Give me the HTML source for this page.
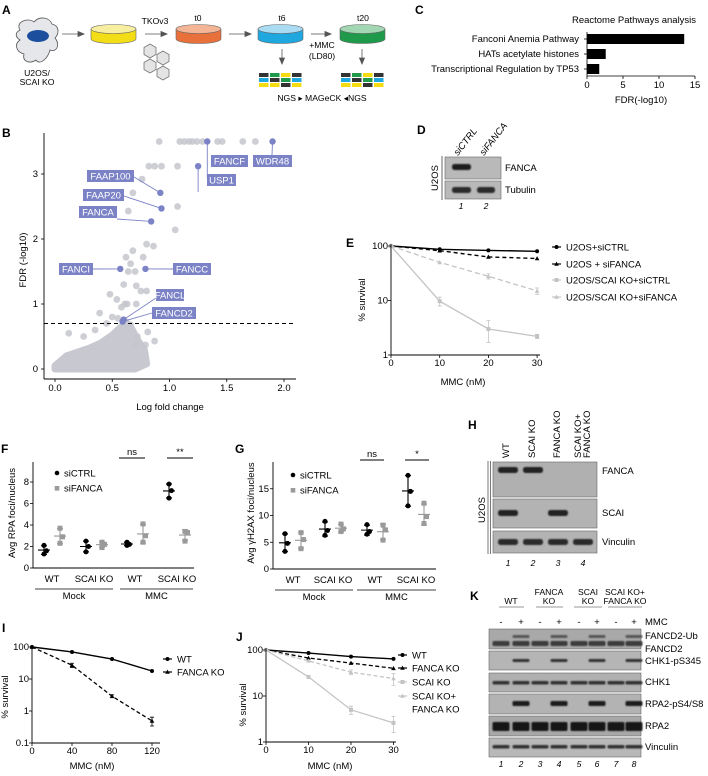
<!DOCTYPE html>
<html><head><meta charset="utf-8"><style>
html,body{margin:0;padding:0;background:#fff;}
svg{display:block;font-family:"Liberation Sans",Arial,sans-serif;}
.pl{font-size:12px;font-weight:bold;}
.t7{font-size:8.6px;}
.t8{font-size:9.5px;}
.lab{font-size:9.5px;}
</style></head><body>
<svg id="fig" width="708" height="776" viewBox="0 0 708 776" xmlns="http://www.w3.org/2000/svg">
<defs><filter id="bl" x="-20%" y="-50%" width="140%" height="200%"><feGaussianBlur stdDeviation="0.7"/></filter></defs>
<text class="pl" x="2" y="14">A</text>
<text class="pl" x="415" y="14">C</text>
<text class="pl" x="2" y="137">B</text>
<text class="pl" x="417" y="134">D</text>
<text class="pl" x="346" y="247">E</text>
<text class="pl" x="1" y="453">F</text>
<text class="pl" x="235" y="453">G</text>
<text class="pl" x="468" y="429">H</text>
<text class="pl" x="2" y="632">I</text>
<text class="pl" x="236" y="641">J</text>
<text class="pl" x="470" y="600">K</text>

<g>
 <path d="M20,30 C15,22 28,17 34,22 C40,15 50,18 52,24 C60,26 59,34 55,38 C61,45 56,53 50,50 C48,58 40,66 36,60 C30,64 22,62 24,54 C16,52 14,44 20,40 C14,36 16,32 20,30 Z" fill="#e6e7ea" stroke="#555" stroke-width="0.8"/>
 <ellipse cx="38" cy="36" rx="11" ry="6" fill="#1b4f9d"/>
 <text class="t7" x="37" y="76" text-anchor="middle">U2OS/</text>
 <text class="t7" x="37" y="85" text-anchor="middle">SCAI KO</text>
 <g>
  <path d="M91,29 L91,39 A22.5,4.5 0 0 0 136,39 L136,29 Z" fill="#f3dd17" stroke="#666" stroke-width="0.6"/>
  <ellipse cx="113.5" cy="29" rx="22.5" ry="4.5" fill="#f8eea0" stroke="#666" stroke-width="0.6"/></g>
 <g>
  <path d="M176,29 L176,39 A22.5,4.5 0 0 0 221,39 L221,29 Z" fill="#e8703a" stroke="#666" stroke-width="0.6"/>
  <ellipse cx="198.5" cy="29" rx="22.5" ry="4.5" fill="#f3b596" stroke="#666" stroke-width="0.6"/></g>
 <g>
  <path d="M258,29 L258,39 A22.5,4.5 0 0 0 303,39 L303,29 Z" fill="#1fa8e0" stroke="#666" stroke-width="0.6"/>
  <ellipse cx="280.5" cy="29" rx="22.5" ry="4.5" fill="#a9dcf2" stroke="#666" stroke-width="0.6"/></g>
 <g>
  <path d="M340,29 L340,39 A22.5,4.5 0 0 0 385,39 L385,29 Z" fill="#1e9a4a" stroke="#666" stroke-width="0.6"/>
  <ellipse cx="362.5" cy="29" rx="22.5" ry="4.5" fill="#a3d6b2" stroke="#666" stroke-width="0.6"/></g>
 <g stroke="#555" stroke-width="0.8" fill="#555">
  <line x1="62" y1="34" x2="79" y2="34"/><path d="M84,34 L78,31.5 L78,36.5Z"/>
  <line x1="145" y1="34" x2="162" y2="34"/><path d="M167,34 L161,31.5 L161,36.5Z"/>
  <line x1="229" y1="34" x2="246" y2="34"/><path d="M251,34 L245,31.5 L245,36.5Z"/>
  <line x1="311" y1="34" x2="326" y2="34"/><path d="M331,34 L325,31.5 L325,36.5Z"/>
  <line x1="282" y1="49" x2="282" y2="59"/><path d="M282,64 L279.5,58 L284.5,58Z"/>
  <line x1="362" y1="49" x2="362" y2="59"/><path d="M362,64 L359.5,58 L364.5,58Z"/>
 </g>
 <text class="t7" x="155" y="24" text-anchor="middle">TKOv3</text>
 <text class="t7" x="198" y="21" text-anchor="middle">t0</text>
 <text class="t7" x="282" y="21" text-anchor="middle">t6</text>
 <text class="t7" x="363" y="21" text-anchor="middle">t20</text>
 <text class="t7" x="322" y="48" text-anchor="middle">+MMC</text>
 <text class="t7" x="322" y="59" text-anchor="middle">(LD80)</text>
 <g fill="#e4e4e4" stroke="#777" stroke-width="0.8">
  <polygon points="150,44 156,47.5 156,54.5 150,58 144,54.5 144,47.5"/>
  <polygon points="163,51 169,54.5 169,61.5 163,65 157,61.5 157,54.5"/>
  <polygon points="150,59 156,62.5 156,69.5 150,73 144,69.5 144,62.5"/>
  <polygon points="163,66 169,69.5 169,76.5 163,80 157,76.5 157,69.5"/>
 </g>
 <text class="t7" x="322" y="101" text-anchor="middle">NGS ▸ MAGeCK ◂NGS</text>
 <g id="grids"></g>
</g>

<g id="panelC">
 <text class="t8" x="634" y="23" text-anchor="middle">Reactome Pathways analysis</text>
 <text class="t8" x="641" y="103" text-anchor="middle">FDR(-log10)</text>
</g>

<g id="panelB">
 <text class="t8" x="170" y="410" text-anchor="middle">Log fold change</text>
 <text class="t8" transform="translate(26,260) rotate(-90)" text-anchor="middle">FDR (-log10)</text>
</g>

<g>
 <text class="t8" font-style="italic" transform="translate(458,156) rotate(-52)">siCTRL</text>
 <text class="t8" font-style="italic" transform="translate(484,156) rotate(-52)">siFANCA</text>
 <rect x="445" y="157" width="56" height="22" fill="#b9b9b9" stroke="#666" stroke-width="0.6"/>
 <rect x="445" y="181" width="56" height="18" fill="#b9b9b9" stroke="#666" stroke-width="0.6"/>
 <rect x="452" y="164" width="19" height="6" rx="2.5" fill="#1f1f1f" filter="url(#bl)"/>
 <rect x="452" y="187" width="19" height="6" rx="2.5" fill="#2a2a2a" filter="url(#bl)"/>
 <rect x="477" y="187" width="18" height="6" rx="2.5" fill="#2a2a2a" filter="url(#bl)"/>
 <line x1="442" y1="156" x2="442" y2="200" stroke="#444" stroke-width="0.8"/>
 <text class="t8" transform="translate(438,178) rotate(-90)" text-anchor="middle">U2OS</text>
 <text class="t8" x="505" y="171">FANCA</text>
 <text class="t8" x="505" y="193">Tubulin</text>
 <text class="t7" font-style="italic" x="461" y="209" text-anchor="middle">1</text>
 <text class="t7" font-style="italic" x="486" y="209" text-anchor="middle">2</text>
</g>

<g id="panelE">
 <text class="t8" x="463" y="385" text-anchor="middle">MMC (nM)</text>
 <text class="t8" transform="translate(365,300) rotate(-90)" text-anchor="middle">% survival</text>
</g>
<g id="panelF">
 <text class="t8" transform="translate(15,513) rotate(-90)" text-anchor="middle">Avg RPA foci/nucleus</text>
</g>
<g id="panelG">
 <text class="t8" transform="translate(254,513) rotate(-90)" text-anchor="middle">Avg γH2AX foci/nucleus</text>
</g>

<g>
 <text class="t8" transform="translate(509,458) rotate(-90)">WT</text>
 <text class="t8" transform="translate(535,458) rotate(-90)">SCAI KO</text>
 <text class="t8" transform="translate(560,458) rotate(-90)">FANCA KO</text>
 <text class="t8" transform="translate(581,458) rotate(-90)">SCAI KO+</text>
 <text class="t8" transform="translate(590,458) rotate(-90)">FANCA KO</text>
 <rect x="493" y="462" width="104" height="35" fill="#b0b0b0" stroke="#666" stroke-width="0.6"/>
 <rect x="493" y="499" width="104" height="29" fill="#b3b3b3" stroke="#666" stroke-width="0.6"/>
 <rect x="493" y="531" width="104" height="22" fill="#b3b3b3" stroke="#666" stroke-width="0.6"/>
 <line x1="488" y1="461" x2="488" y2="554" stroke="#555" stroke-width="0.8"/>
 <line x1="490.5" y1="461" x2="490.5" y2="554" stroke="#555" stroke-width="0.8"/>
 <text class="t8" transform="translate(485,510) rotate(-90)" text-anchor="middle">U2OS</text>
 <text class="t8" x="602" y="474">FANCA</text>
 <text class="t8" x="602" y="516">SCAI</text>
 <text class="t8" x="602" y="545">Vinculin</text>
 <g id="hBands"></g>
</g>

<g>
 <text class="t7" x="511" y="604" text-anchor="middle">WT</text>
 <text class="t7" x="549" y="595" text-anchor="middle">FANCA</text>
 <text class="t7" x="549" y="604" text-anchor="middle">KO</text>
 <text class="t7" x="588" y="595" text-anchor="middle">SCAI</text>
 <text class="t7" x="588" y="604" text-anchor="middle">KO</text>
 <text class="t7" x="625" y="595" text-anchor="middle">SCAI KO+</text>
 <text class="t7" x="625" y="604" text-anchor="middle">FANCA KO</text>
 <g stroke="#333" stroke-width="0.6"><line x1="499" y1="607" x2="524" y2="607"/><line x1="536" y1="607" x2="563" y2="607"/><line x1="574" y1="607" x2="602" y2="607"/><line x1="608" y1="607" x2="642" y2="607"/></g>
 <text class="t8" x="645" y="625">MMC</text>
 <g id="kBands"></g>
 <text class="t8" x="645" y="639">FANCD2-Ub</text>
 <text class="t8" x="645" y="652">FANCD2</text>
 <text class="t8" x="645" y="664">CHK1-pS345</text>
 <text class="t8" x="645" y="685">CHK1</text>
 <text class="t8" x="645" y="707">RPA2-pS4/S8</text>
 <text class="t8" x="645" y="729">RPA2</text>
 <text class="t8" x="645" y="750">Vinculin</text>
</g>

<g id="panelI">
 <text class="t8" x="92" y="769" text-anchor="middle">MMC (nM)</text>
 <text class="t8" transform="translate(8,697) rotate(-90)" text-anchor="middle">% survival</text>
</g>
<g id="panelJ">
 <text class="t8" x="330" y="769" text-anchor="middle">MMC (nM)</text>
 <text class="t8" transform="translate(246,705) rotate(-90)" text-anchor="middle">% survival</text>
</g>
</svg>
<script>
const cCats=['Fanconi Anemia Pathway','HATs acetylate histones','Transcriptional Regulation by TP53'];
const cVals=[13.5,2.6,1.7];
const cTicks=[0,5,10,15];

const bTicksX=[0,0.5,1,1.5,2];
const bTickLabelsX=['0.0','0.5','1.0','1.5','2.0'];
const bTicksY=[0,1,2,3];
const bThreshold=0.7;
const bgFold=[0.91,1.09,1.13,1.17,1.2,1.24,1.29,1.42,1.46,1.64,1.75,0.82,0.87,0.93,1.07,0.76,0.68,1.07,0.64,1.05,0.8,0.86,0.68,0.62,0.77,0.66,0.64,0.7,0.6,0.71,0.48,0.75,0.8,0.54,0.61,0.63,0.71,0.39,0.81,0.72,0.87,0.12,0.79,0.71,0.45,0.5,0.55,0.66,0.58,0.35,0.25];
const bgFdr=[3.5,3.5,3.5,3.5,3.5,3.5,3.5,3.5,3.5,3.5,3.5,3.12,3.12,3.12,3.12,2.92,2.71,2.5,2.43,2.14,1.92,1.89,1.82,1.72,1.72,1.62,1.5,1.5,1.3,1.28,1.15,1.2,1.2,1.07,1.0,1.0,1.0,0.86,0.57,0.5,0.43,0.55,0.37,0.37,0.7,0.8,0.78,0.68,0.95,0.6,0.5];
const cloudFold=[0,0.1,0.2,0.3,0.4,0.5,0.56,0.62,0.67,0.72,0.78,0.8,0.7,0.5,0.3,0.1,0];
const cloudFdr=[0.05,0.2,0.26,0.32,0.4,0.52,0.62,0.72,0.62,0.45,0.3,0.08,0,0,0,0,0];
const hlNames=['FANCF','WDR48','USP1','FAAP100','FAAP20','FANCA','FANCI','FANCC','FANCL','FANCD2'];
const hlFold=[1.33,1.9,1.25,0.92,0.93,0.84,0.57,0.79,0.6,0.59];
const hlFdr=[3.5,3.5,3.12,2.71,2.47,2.27,1.54,1.54,0.76,0.73];

const eDoses=[0,10,20,30];
const eTicksY=[1,10,100];
const eSiCtrl=[100,87,83,80];
const eSiFanca=[100,82,63,59];
const eScaiSiCtrl=[100,9.7,3.0,2.2];
const eScaiSiFanca=[100,50,27.8,15];
const eScaiSiCtrlErr=[0,1.8,1.3,0.2];
const eScaiSiFancaErr=[0,0,3,2];

const fgCats=['WT','SCAI KO','WT','SCAI KO'];
const fTicks=[0,2,4,6,8];
const fCtrl=[[2.1,1.6,1.3],[2.5,2.0,1.5],[2.4,2.2,2.1],[7.8,7.2,6.5]];
const fFanca=[[3.7,2.9,2.3],[2.4,2.2,1.9],[4.1,3.0,2.4],[3.4,3.3,2.5]];
const gTicks=[0,5,10,15];
const gCtrl=[[6.6,4.8,3.3],[8.9,7.2,6.3],[8.3,7.0,6.5],[17.5,14.5,11.8]];
const gFanca=[[6.8,5.5,3.8],[8.4,7.5,7.0],[8.2,7.3,5.4],[12.3,9.8,8.5]];

const iDoses=[0,40,80,120];
const iTicksY=[0.1,1,10,100];
const iWT=[100,70,42,17.8];
const iFanca=[100,27,2.9,0.49];
const iFancaErr=[0,4,0.3,0.15];

const jDoses=[0,10,20,30];
const jTicksY=[1,10,100];
const jWT=[100,86,72,64];
const jFanca=[100,67,52,40];
const jScai=[100,26,5,2.6];
const jScaiFanca=[100,58,33,24];
const jScaiErr=[0,1.5,1,1];
const jScaiFancaErr=[0,3,4,7];

const NS='http://www.w3.org/2000/svg';
function mk(tag,attrs,parent){const e=document.createElementNS(NS,tag);for(const k in attrs)e.setAttribute(k,attrs[k]);parent.appendChild(e);return e;}
function txt(x,y,s,anchor,parent,cls){const e=mk('text',{x:x,y:y,'text-anchor':anchor||'start',class:cls||'t8'},parent);e.textContent=s;return e;}
const L10=Math.log10;

const grids=document.getElementById('grids');
const gc={k:'#333',g:'#1e9a4a',y:'#f5dc10',b:'#1fa8e0'};
const gridRows=[['k','g','y','k'],['b','k','g','b'],['y','y','k','y']];
[259,341].forEach(function(gx){gridRows.forEach(function(row,r){row.forEach(function(c,ci){
  const e=mk('rect',{x:gx+ci*11,y:73+r*5,width:9.5,height:4,fill:gc[c]},grids);
  
  
});});});

(function(){
 const g=document.getElementById('panelC');
 const cx=v=>587+v*7.2;
 mk('line',{x1:587,y1:32,x2:587,y2:76,stroke:'#000','stroke-width':0.8},g);
 mk('line',{x1:587,y1:76,x2:cx(15),y2:76,stroke:'#000','stroke-width':0.8},g);
 cTicks.forEach(function(t){
  mk('line',{x1:cx(t),y1:76,x2:cx(t),y2:79,stroke:'#000','stroke-width':0.8},g);
  const l=txt(cx(t),88,String(t),'middle',g);
  
  
 });
 cCats.forEach(function(c,i){
  const y=39+i*15;
  const b=mk('rect',{x:587,y:y-5,width:cx(cVals[i])-587,height:10,fill:'#000'},g);
  
  
  mk('line',{x1:584,y1:y,x2:587,y2:y,stroke:'#000','stroke-width':0.8},g);
  const l=txt(579,y+3,c,'end',g);
  
  
 });
})();

(function(){
 const g=document.getElementById('panelB');
 const bx=v=>55+v*114.5, by=v=>369-v*65;
 const pts=cloudFold.map((f,i)=>bx(f)+','+by(cloudFdr[i])).join(' ');
 const cl=mk('polygon',{points:pts,fill:'#c8c9d0',stroke:'#c8c9d0','stroke-width':7,'stroke-linejoin':'round'},g);
 
 
 bgFold.forEach(function(f,i){
  const c=mk('circle',{cx:bx(f),cy:by(bgFdr[i]),r:3.4,fill:'#c6c7ce','fill-opacity':0.85},g);
  
  
 });
 const th=mk('line',{x1:44,y1:by(bThreshold),x2:296,y2:by(bThreshold),stroke:'#000','stroke-width':1.1,'stroke-dasharray':'4,3'},g);
 
 
 mk('line',{x1:44,y1:133,x2:44,y2:379,stroke:'#000','stroke-width':0.9},g);
 mk('line',{x1:44,y1:379,x2:296,y2:379,stroke:'#000','stroke-width':0.9},g);
 bTicksX.forEach(function(t,i){
  mk('line',{x1:bx(t),y1:379,x2:bx(t),y2:382,stroke:'#000','stroke-width':0.8},g);
  const l=txt(bx(t),391,bTickLabelsX[i],'middle',g);
  
  
 });
 bTicksY.forEach(function(t){
  mk('line',{x1:41,y1:by(t),x2:44,y2:by(t),stroke:'#000','stroke-width':0.8},g);
  const l=txt(38,by(t)+3,String(t),'end',g);
  
  
 });
 const boxes={FANCF:[211,155,37,209,176],WDR48:[253,155,39,272,155],USP1:[207,174,29,199,192],FAAP100:[87,170,47,134,177],FAAP20:[83,189,41,124,196],FANCA:[79,206,38,117,219],FANCI:[59,263,34,93,269],FANCC:[173,263,38,173,269],FANCL:[156,289,28,156,298],FANCD2:[152,307,44,152,313]};
 const blue='#7b82c6';
 hlNames.forEach(function(n,i){
  const px=bx(hlFold[i]), py=by(hlFdr[i]);
  const b=boxes[n];
  let ax=b[3], ay=b[4];
  if(n==='USP1'){ax=px;}
  if(n==='FANCF'){mk('line',{x1:px,y1:py,x2:px,y2:178,stroke:blue,'stroke-width':0.9},g);}
  else mk('line',{x1:px,y1:py,x2:ax,y2:ay,stroke:blue,'stroke-width':0.9},g);
  const c=mk('circle',{cx:px,cy:py,r:3.2,fill:blue},g);
  
  
  const r=mk('rect',{x:b[0],y:b[1],width:b[2],height:12,fill:blue},g);
  
  
  const t=txt(b[0]+b[2]/2,b[1]+9.3,n,'middle',g);
  t.setAttribute('fill','#fff');
  t.setAttribute('font-size','9');
  
  
 });
})();

function marker(type,x,y,color,g){
 let e;
 if(type==='c') e=mk('circle',{cx:x,cy:y,r:2,fill:color},g);
 else if(type==='s') e=mk('rect',{x:x-2,y:y-2,width:4,height:4,fill:color},g);
 else e=mk('path',{d:'M'+x+','+(y-2.4)+' L'+(x+2.3)+','+(y+1.8)+' L'+(x-2.3)+','+(y+1.8)+'Z',fill:color},g);
 return e;
}
function logChart(cfg){
 const g=document.getElementById(cfg.id);
 const X=d=>cfg.x0+d*cfg.xs;
 const Y=v=>cfg.yTop+(L10(cfg.yMax)-L10(v))*cfg.dec;
 const yBot=Y(cfg.yMin);
 cfg.series.forEach(function(s){
  const p=mk('polyline',{points:cfg.doses.map((d,i)=>X(d)+','+Y(s.v[i])).join(' '),fill:'none',stroke:s.color,'stroke-width':s.w||1.3},g);
  if(s.dash)p.setAttribute('stroke-dasharray',s.dash);
  
  
  cfg.doses.forEach(function(d,i){
   if(s.err&&s.err[i]){
    const x=X(d),y1=Y(s.v[i]+s.err[i]),y2=Y(Math.max(s.v[i]-s.err[i],cfg.yMin*1.01));
    mk('path',{d:'M'+x+','+y1+'V'+y2+'M'+(x-2)+','+y1+'H'+(x+2)+'M'+(x-2)+','+y2+'H'+(x+2),stroke:s.color,'stroke-width':0.8,fill:'none'},g);
   }
   const m=marker(s.m,X(d),Y(s.v[i]),s.color,g);
   
   
  });
 });
 mk('line',{x1:cfg.x0,y1:cfg.yTop-2,x2:cfg.x0,y2:yBot,stroke:'#000','stroke-width':0.9},g);
 mk('line',{x1:cfg.x0,y1:yBot,x2:cfg.xEnd,y2:yBot,stroke:'#000','stroke-width':0.9},g);
 cfg.doses.forEach(function(d){
  mk('line',{x1:X(d),y1:yBot,x2:X(d),y2:yBot+3,stroke:'#000','stroke-width':0.8},g);
  const l=txt(X(d),yBot+11,String(d),'middle',g);
  
  
 });
 cfg.ticksY.forEach(function(t){
  mk('line',{x1:cfg.x0-3,y1:Y(t),x2:cfg.x0,y2:Y(t),stroke:'#000','stroke-width':0.8},g);
  const l=txt(cfg.x0-3,Y(t)+3,String(t),'end',g);
  
  
 });
 cfg.series.forEach(function(s,i){
  const ly=cfg.legY[i], lx=cfg.legX;
  mk('line',{x1:lx,y1:ly,x2:lx+9,y2:ly,stroke:s.color,'stroke-width':1.2},g);
  marker(s.m,lx+4.5,ly,s.color,g);
  s.label.forEach(function(tl,k){
   const t=txt(lx+14,ly+3.5+k*13,tl,'start',g);
   
   
  });
 });
}
const lg='#c4c4c4';
logChart({id:'panelE',doses:eDoses,x0:391,xs:4.87,xEnd:540,yTop:246,yMax:100,yMin:1,dec:54.5,ticksY:eTicksY,legX:552,legY:[247,264,280,297],
 series:[{name:'u2os-sictrl',v:eSiCtrl,color:'#000',m:'c',w:1.4,label:['U2OS+siCTRL']},
  {name:'u2os-sifanca',v:eSiFanca,color:'#000',m:'t',dash:'4,3',w:1.4,label:['U2OS + siFANCA']},
  {name:'scai-sictrl',v:eScaiSiCtrl,color:lg,m:'s',err:eScaiSiCtrlErr,label:['U2OS/SCAI KO+siCTRL']},
  {name:'scai-sifanca',v:eScaiSiFanca,color:lg,m:'t',dash:'5,3',err:eScaiSiFancaErr,label:['U2OS/SCAI KO+siFANCA']}]});
logChart({id:'panelI',doses:iDoses,x0:32,xs:1.0,xEnd:160,yTop:647,yMax:100,yMin:0.1,dec:32,ticksY:iTicksY,legX:163,legY:[659,672],
 series:[{name:'wt',v:iWT,color:'#000',m:'c',w:1.4,label:['WT']},
  {name:'fanca-ko',v:iFanca,color:'#000',m:'t',dash:'4,2.5',err:iFancaErr,w:1.3,label:['FANCA KO']}]});
logChart({id:'panelJ',doses:jDoses,x0:266,xs:4.25,xEnd:396,yTop:650,yMax:100,yMin:1,dec:46,ticksY:jTicksY,legX:398,legY:[655,668,682,696],
 series:[{name:'wt',v:jWT,color:'#000',m:'c',w:1.4,label:['WT']},
  {name:'fanca-ko',v:jFanca,color:'#000',m:'t',dash:'4,2.5',w:1.3,label:['FANCA KO']},
  {name:'scai-ko',v:jScai,color:lg,m:'s',err:jScaiErr,label:['SCAI KO']},
  {name:'scai-fanca-ko',v:jScaiFanca,color:lg,m:'t',dash:'4,2.5',err:jScaiFancaErr,label:['SCAI KO+','FANCA KO']}]});

function dotPlot(cfg){
 const g=document.getElementById(cfg.id);
 const Y=v=>cfg.y0-v*cfg.ys;
 mk('line',{x1:cfg.ax,y1:cfg.yTop,x2:cfg.ax,y2:cfg.y0,stroke:'#000','stroke-width':0.9},g);
 mk('line',{x1:cfg.ax,y1:cfg.y0,x2:cfg.xEnd,y2:cfg.y0,stroke:'#000','stroke-width':0.9},g);
 cfg.ticks.forEach(function(t){
  mk('line',{x1:cfg.ax-3,y1:Y(t),x2:cfg.ax,y2:Y(t),stroke:'#000','stroke-width':0.8},g);
  const l=txt(cfg.ax-4,Y(t)+3,String(t),'end',g);
  
  
 });
 function grp(vals,x,color,type,name){
  const m=vals.reduce((a,b)=>a+b,0)/vals.length;
  const sd=Math.sqrt(vals.reduce((a,b)=>a+(b-m)*(b-m),0)/(vals.length-1));
  mk('path',{d:'M'+x+','+Y(m+sd)+'V'+Y(m-sd)+'M'+(x-3)+','+Y(m+sd)+'H'+(x+3)+'M'+(x-3)+','+Y(m-sd)+'H'+(x+3)+'M'+(x-6)+','+Y(m)+'H'+(x+6),stroke:color,'stroke-width':1.1,fill:'none'},g);
  vals.forEach(function(v,k){
   const off=(k===1)?2.5:0;
   let e;
   if(type==='c') e=mk('circle',{cx:x+off,cy:Y(v),r:2.5,fill:color},g);
   else e=mk('rect',{x:x+off-2.5,y:Y(v)-2.5,width:5,height:5,fill:color},g);
   
   
  });
 }
 fgCats.forEach(function(c,i){
  const cx=cfg.centers[i];
  grp(cfg.ctrl[i],cx-cfg.off,'#000','c','sictrl');
  grp(cfg.fanca[i],cx+cfg.off,'#9a9a9a','s','sifanca');
  const l=txt(cx,cfg.y0+14,c,'middle',g);
  l.setAttribute('font-size','9.5');
  
  
 });
 const gy=cfg.y0+21;
 mk('line',{x1:cfg.mock[0],y1:gy,x2:cfg.mock[1],y2:gy,stroke:'#000','stroke-width':0.7},g);
 mk('line',{x1:cfg.mmc[0],y1:gy,x2:cfg.mmc[1],y2:gy,stroke:'#000','stroke-width':0.7},g);
 const a=txt((cfg.mock[0]+cfg.mock[1])/2,gy+10,'Mock','middle',g);
 a.setAttribute('font-size','9.5');
 
 
 const b=txt((cfg.mmc[0]+cfg.mmc[1])/2,gy+10,'MMC','middle',g);
 b.setAttribute('font-size','9.5');
 
 
 cfg.sig.forEach(function(s){
  mk('line',{x1:s[0],y1:cfg.sigY,x2:s[1],y2:cfg.sigY,stroke:'#000','stroke-width':0.9},g);
  const t=txt((s[0]+s[1])/2,cfg.sigY-3,s[2],'middle',g);
  
  
 });
 mk('circle',{cx:cfg.legX,cy:cfg.legY,r:2.3,fill:'#000'},g);
 const t1=txt(cfg.legX+7,cfg.legY+3.5,'siCTRL','start',g);
 t1.setAttribute('font-size','9.5');
 
 
 mk('rect',{x:cfg.legX-2.3,y:cfg.legY+13,width:4.6,height:4.6,fill:'#9a9a9a'},g);
 const t2=txt(cfg.legX+7,cfg.legY+18.5,'siFANCA','start',g);
 t2.setAttribute('font-size','9.5');
 
 
}
dotPlot({id:'panelF',ax:33,y0:568,ys:10.75,yTop:462,xEnd:194,ticks:fTicks,centers:[52,94,135,177],off:8,ctrl:fCtrl,fanca:fFanca,mock:[35,113],mmc:[120,193],sig:[[119,145,'ns'],[167,193,'**']],sigY:458,legX:57,legY:473});
dotPlot({id:'panelG',ax:273,y0:569,ys:5.35,yTop:462,xEnd:436,ticks:gTicks,centers:[293,333,375,416],off:8,ctrl:gCtrl,fanca:gFanca,mock:[275,353],mmc:[357,436],sig:[[360,384,'ns'],[405,429,'*']],sigY:460,legX:293,legY:475});

(function(){
 const g=document.getElementById('hBands');
 const lanes=[508,533,558,583];
 const fanca=[1,1,0,0], scai=[1,0,1,0];
 lanes.forEach(function(x,i){
  if(fanca[i]){const b=mk('rect',{x:x-10,y:467,width:20,height:6,rx:2.5,fill:'#222',filter:'url(#bl)'},g);
   
   }
  if(scai[i]){const b=mk('rect',{x:x-10,y:510,width:20,height:6,rx:2.5,fill:'#222',filter:'url(#bl)'},g);
   
   }
  const b=mk('rect',{x:x-10,y:539,width:20,height:6,rx:2.5,fill:'#2a2a2a',filter:'url(#bl)'},g);
  
  
  const n=txt(x,566,String(i+1),'middle',g.parentNode,'t7');
  n.setAttribute('font-style','italic');
  
  
 });
})();
(function(){
 const g=document.getElementById('kBands');
 const lanes=[501,521,540,559,579,597,616,634];
 const panels=[[629,20,'#a9a9a9'],[651,19,'#b5b5b5'],[673,19,'#b0b0b0'],[694,20,'#b3b3b3'],[716,20,'#a8a8a8'],[738,19,'#b8b8b8']];
 panels.forEach(function(p){
  const r=mk('rect',{x:489,y:p[0],width:152,height:p[1],fill:p[2],stroke:'#666','stroke-width':0.6},g);
  
  
 });
 lanes.forEach(function(x,i){
  const plus=i%2===1;
  const s=txt(x,625,plus?'+':'-','middle',g);
  
  
  const bands=[[641,5,'#3a3a3a'],[681,3.5,'#333'],[722,9,'#151515'],[745,3.5,'#333']];
  if(plus){bands.push([635,3,'#555']);bands.push([659,3,'#333']);bands.push([701,5,'#1a1a1a']);}
  bands.forEach(function(b){
   const e=mk('rect',{x:x-8.5,y:b[0],width:17,height:b[1],rx:1.5,fill:b[2],filter:'url(#bl)'},g);
   
   
  });
  const n=txt(x,767,String(i+1),'middle',g,'t7');
  n.setAttribute('font-style','italic');
  
  
 });
})();
</script>
</body></html>
